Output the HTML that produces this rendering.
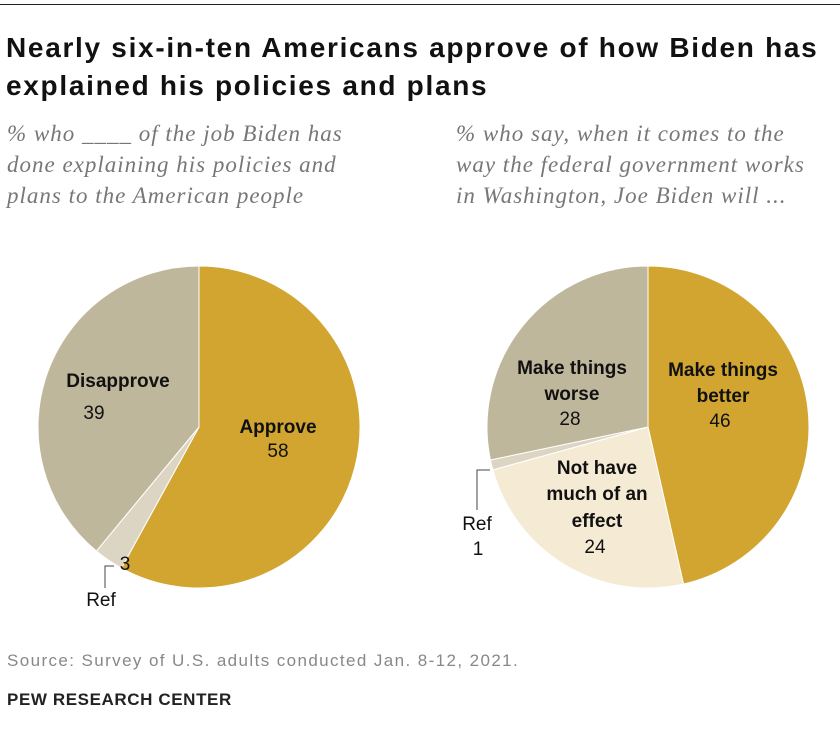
<!DOCTYPE html>
<html><head><meta charset="utf-8"><style>
body{margin:0;background:#fff;width:840px;height:748px;overflow:hidden;font-family:"Liberation Sans",sans-serif;position:relative}
.t{position:absolute;left:6px;font-weight:bold;font-size:28px;letter-spacing:1.7px;color:#111;line-height:38px;white-space:nowrap}
.sub{position:absolute;font-style:italic;font-size:23px;letter-spacing:1.0px;color:#777;line-height:31px;font-family:"Liberation Serif",serif;white-space:nowrap}
</style></head><body>
<div style="position:absolute;left:0;top:4px;width:840px;height:1px;background:#222"></div>
<div class="t" style="top:29px">Nearly six-in-ten Americans approve of how Biden has<br>explained his policies and plans</div>
<div class="sub" style="left:7px;top:118px">% who ____ of the job Biden has<br>done explaining his policies and<br>plans to the American people</div>
<div class="sub" style="left:456px;top:118px">% who say, when it comes to the<br>way the federal government works<br>in Washington, Joe Biden will ...</div>
<svg id="c" width="840" height="748" style="position:absolute;left:0;top:0" font-family="Liberation Sans, sans-serif"></svg>
<div style="position:absolute;left:7px;top:651px;font-size:17px;letter-spacing:1.4px;color:#888;white-space:nowrap">Source: Survey of U.S. adults conducted Jan. 8-12, 2021.</div>
<div style="position:absolute;left:7px;top:690px;font-size:17px;letter-spacing:0.6px;font-weight:bold;color:#222">PEW RESEARCH CENTER</div>
<script>
const pie1Labels=["Approve","Ref","Disapprove"];
const pie1Values=[58,3,39];
const pie2Labels=["Make things better","Not have much of an effect","Ref","Make things worse"];
const pie2Values=[46,24,1,28];
const pie1Colors=["#D1A52F","#DCD5C4","#BFB79C"];
const pie2Colors=["#D1A52F","#F5EAD3","#DCD5C4","#BFB79C"];
const svg=document.getElementById('c');
const NS="http://www.w3.org/2000/svg";
function drawPie(cx,cy,r,vals,cols,names,tag){
  const tot=vals.reduce((a,b)=>a+b,0);let a0=0;
  vals.forEach((v,i)=>{
    const a1=a0+v/tot*2*Math.PI;
    const x0=cx+r*Math.sin(a0),y0=cy-r*Math.cos(a0),x1=cx+r*Math.sin(a1),y1=cy-r*Math.cos(a1);
    const p=document.createElementNS(NS,'path');
    p.setAttribute('d',`M${cx},${cy}L${x0},${y0}A${r},${r} 0 ${a1-a0>Math.PI?1:0} 1 ${x1},${y1}Z`);
    p.setAttribute('fill',cols[i]);p.setAttribute('stroke','#fff');p.setAttribute('stroke-width','1');
    
    
    svg.appendChild(p);a0=a1;
  });
}
function txt(x,y,s,b,anchor){
  const t=document.createElementNS(NS,'text');
  t.setAttribute('x',x);t.setAttribute('y',y);t.setAttribute('font-size','19');
  t.setAttribute('text-anchor',anchor||'middle');t.setAttribute('fill','#111');
  if(b)t.setAttribute('font-weight','bold');t.textContent=s;
  
  
  svg.appendChild(t);
}
drawPie(199,427,161,pie1Values,pie1Colors,pie1Labels,'pie1');
drawPie(648,427,161,pie2Values,pie2Colors,pie2Labels,'pie2');
txt(278,433,pie1Labels[0],true);txt(278,457,String(pie1Values[0]));
txt(118,387,pie1Labels[2],true);txt(94,419,String(pie1Values[2]));
txt(125,570,String(pie1Values[1]),false);txt(101,606,pie1Labels[1]);
txt(723,376,"Make things",true);txt(723,402,"better",true);txt(720,427,String(pie2Values[0]));
txt(572,374,"Make things",true);txt(572,400,"worse",true);txt(570,425,String(pie2Values[3]));
txt(597,474,"Not have",true);txt(597,500,"much of an",true);txt(597,527,"effect",true);txt(595,553,String(pie2Values[1]));
txt(477,530,pie2Labels[2]);txt(478,555,String(pie2Values[2]));
const l=document.createElementNS(NS,'path');
l.setAttribute('d','M114,566L105,566L105,588M490,470L477,470L477,510');
l.setAttribute('stroke','#444');l.setAttribute('fill','none');


svg.appendChild(l);
</script>
</body></html>
